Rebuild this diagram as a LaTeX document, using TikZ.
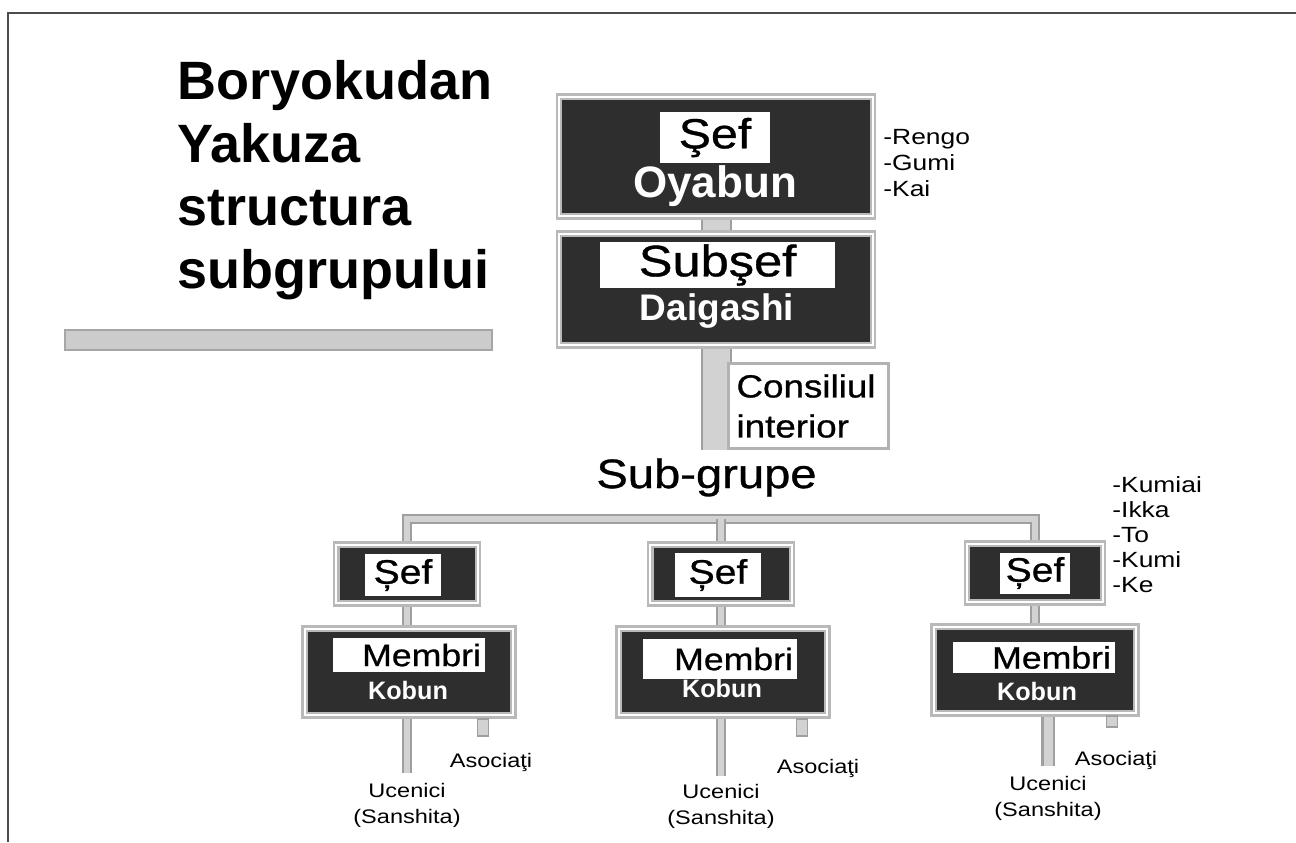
\documentclass[tikz,border=0pt]{standalone}
\usepackage{fontspec}
\setmainfont{Liberation Sans}
\newfontfamily\widefont[FakeStretch=1.2]{Liberation Sans}
\newfontfamily\medfont[FakeStretch=1.15,FakeBold=0.8]{Liberation Sans}
\usetikzlibrary{backgrounds}

\begin{document}
\begin{tikzpicture}[x=0.5pt,y=-0.5pt,
  darkbox/.style={draw=gray!55,double=white,double distance=0.9pt,line width=1.2pt,fill=black!82,inner sep=0pt},
  whitebox/.style={fill=white,inner sep=0pt},
  bar/.style={draw=gray!75,double=gray!35,line width=1pt,double distance=3pt},
  widebar/.style={bar,double distance=13.5pt},
  stubbox/.style={draw=gray!75,fill=gray!35,line width=0.8pt,minimum width=5.5pt,minimum height=8.5pt,inner sep=0pt},
  whitetxt/.style={anchor=base,text=white,font=\bfseries\fontsize{#1}{#1}\selectfont},
  small/.style={font=\widefont\fontsize{9.8}{13}\selectfont}]
\useasboundingbox (0,0) rectangle (1296,842);
\draw [gray!60!black,line width=1.3pt] (1296,13) -- (8,13) -- (8,842);

\node [anchor=north west,inner sep=0pt,align=left,font=\bfseries\fontsize{27}{31.5}\selectfont] (title) at (177,60) {Boryokudan\\Yakuza\\structura\\subgrupului};
\draw [draw=gray!70,fill=gray!40,line width=1pt] (65,330) rectangle (492,350);

\node [darkbox,minimum width=157pt,minimum height=59.8pt] (oyabun) at (716,156.5) {};
\node [whitebox,minimum width=55pt,minimum height=25.5pt,font=\medfont\fontsize{21}{21}\selectfont] (sef) at (715,137.5) {Şef};
\node [whitetxt=22] (oyabunTxt) at (715,197) {Oyabun};
\node [anchor=north west,inner sep=0pt,align=left,font=\widefont\fontsize{11}{13}\selectfont] (rengo) at (883,129) {-Rengo\\-Gumi\\-Kai};

\node [darkbox,minimum width=157pt,minimum height=55.8pt] (subsef) at (716,289.5) {};
\node [whitebox,minimum width=117.5pt,minimum height=23pt,font=\medfont\fontsize{22}{22}\selectfont] (subsefTxt) at (717.5,265) {Subşef};
\node [whitetxt=18.5] (daigashi) at (717,320) {Daigashi};

\node [draw=gray!60,line width=1.5pt,fill=white,minimum width=80pt,minimum height=42.5pt,inner xsep=3pt,text width=72pt,align=left,font=\medfont\fontsize{16}{20}\selectfont] (consiliu) at (808.5,406) {Consiliul\\interior};

\node [anchor=base,font=\medfont\fontsize{20.5}{20.5}\selectfont] (subgrupe) at (706.5,488) {Sub-grupe};
\node [anchor=north west,inner sep=0pt,align=left,font=\widefont\fontsize{11}{12.5}\selectfont] (kumiai) at (1112,476) {-Kumiai\\-Ikka\\-To\\-Kumi\\-Ke};
\coordinate (bus) at (721,519);

\node [darkbox,minimum width=70.8pt,minimum height=29.3pt] (sefA) at (407,574) {};
\node [whitebox,minimum width=38pt,minimum height=21pt,font=\medfont\fontsize{17}{17}\selectfont] (sefAtxt) at (403,575) {Șef};
\node [darkbox,minimum width=104.3pt,minimum height=43.3pt] (mbA) at (409,672) {};
\node [whitebox,minimum width=76pt,minimum height=17pt,text width=72pt,align=right,inner xsep=2pt,font=\medfont\fontsize{15.5}{15.5}\selectfont] (mbAtxt) at (409,655) {Membri};
\node [whitetxt=12.6] (kobunA) at (408,699) {Kobun};
\node [stubbox,anchor=north] (stA) at (483,718) {};
\node [anchor=base,small] (asA) at (491,767) {Asociaţi};
\node [anchor=north,align=center,inner sep=0pt,small] (ucA) at (407,783) {Ucenici\\(Sanshita)};

\node [darkbox,minimum width=70.8pt,minimum height=29.3pt] (sefB) at (721,574) {};
\node [whitebox,minimum width=43pt,minimum height=22pt,font=\medfont\fontsize{17}{17}\selectfont] (sefBtxt) at (718,575) {Șef};
\node [darkbox,minimum width=104.3pt,minimum height=43.3pt] (mbB) at (723,672) {};
\node [whitebox,minimum width=77pt,minimum height=20pt,text width=73pt,align=right,inner xsep=2pt,font=\medfont\fontsize{15.5}{15.5}\selectfont] (mbBtxt) at (720,659) {Membri};
\node [whitetxt=12.6] (kobunB) at (722,697) {Kobun};
\node [stubbox,anchor=north] (stB) at (802,718) {};
\node [anchor=base,small] (asB) at (818,773) {Asociaţi};
\node [anchor=north,align=center,inner sep=0pt,small] (ucB) at (721,784) {Ucenici\\(Sanshita)};

\node [darkbox,minimum width=68pt,minimum height=29.3pt] (sefC) at (1035,573) {};
\node [whitebox,minimum width=35pt,minimum height=20.5pt,font=\medfont\fontsize{17}{17}\selectfont] (sefCtxt) at (1035,573) {Șef};
\node [darkbox,minimum width=101.3pt,minimum height=43.3pt] (mbC) at (1035,670) {};
\node [whitebox,minimum width=81pt,minimum height=15.5pt,text width=77pt,align=right,inner xsep=2pt,font=\medfont\fontsize{15.5}{15.5}\selectfont] (mbCtxt) at (1034,657.5) {Membri};
\node [whitetxt=12.6] (kobunC) at (1037,700) {Kobun};
\node [stubbox,anchor=north,minimum height=5.5pt] (stC) at (1112,715) {};
\node [anchor=base,small] (asC) at (1116,765) {Asociaţi};
\node [anchor=north,align=center,inner sep=0pt,small] (ucC) at (1048,776) {Ucenici\\(Sanshita)};

\begin{pgfonlayer}{background}
\draw [widebar] (oyabun.south) -- (subsef.north);
\draw [widebar] (subsef.south) -- (subsef.south |- consiliu.south);
\draw [bar] (sefA.north) |- (sefC.north |- bus) -- (sefC.north);
\draw [bar] (sefB.north) -- (sefB.north |- bus);
\draw [bar] (sefA.south) -- (sefA.south |- mbA.north);
\draw [bar] (sefB.south) -- (sefB.south |- mbB.north);
\draw [bar] (sefC.south) -- (sefC.south |- mbC.north);
\draw [bar,shorten >=5pt] (mbA.south -| sefA.south) -- (sefA.south |- ucA.north);
\draw [bar,shorten >=4pt] (mbB.south -| sefB.south) -- (sefB.south |- ucB.north);
\draw [bar,line width=1.2pt,double distance=4.5pt,shorten >=5pt] (mbC.south -| ucC.north) -- (ucC.north);
\end{pgfonlayer}
\end{tikzpicture}
\end{document}
